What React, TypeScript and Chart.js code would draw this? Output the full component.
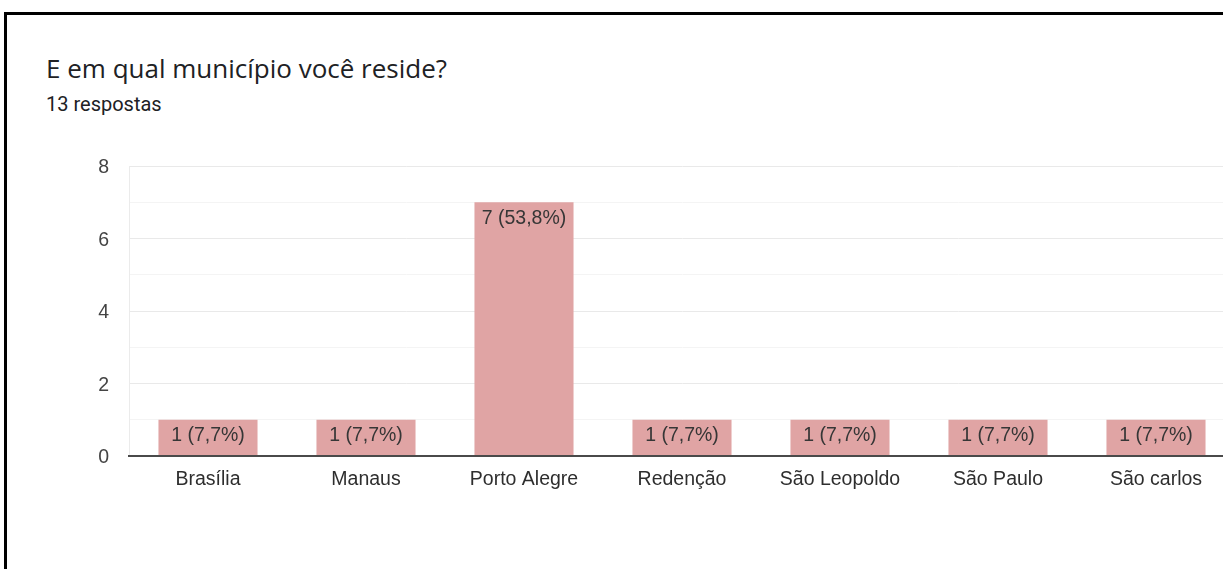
import React, { useEffect, useRef } from 'react';
import { Chart, registerables } from 'chart.js';

Chart.register(...registerables);

const titleText = 'E em qual município você reside?';
const subtitleText = '13 respostas';
const categories = ['Brasília', 'Manaus', 'Porto Alegre', 'Redenção', 'São Leopoldo', 'São Paulo', 'São carlos'];
const counts = [1, 1, 7, 1, 1, 1, 1];
const yMin = 0;
const yMax = 8;
const yLabelValues = [0, 2, 4, 6, 8];

const total = counts.reduce((a, b) => a + b, 0);
const barLabels = counts.map((c) => `${c} (${((c / total) * 100).toFixed(1).replace('.', ',')}%)`);

const axisFont = '"Liberation Sans", Arial, sans-serif';

const barLabelPlugin = {
  id: 'barLabels',
  afterDatasetsDraw(chart: any) {
    const ctx = chart.ctx;
    const meta = chart.getDatasetMeta(0);
    ctx.save();
    ctx.font = `19.5px ${axisFont}`;
    ctx.fillStyle = '#363636';
    ctx.textAlign = 'center';
    ctx.textBaseline = 'middle';
    meta.data.forEach((bar: any, i: number) => {
      const { x, y } = bar.getProps(['x', 'y'], true);
      ctx.fillText(barLabels[i], x, y + 16);
    });
    ctx.restore();
  },
};

export default function App() {
  const canvasRef = useRef<HTMLCanvasElement | null>(null);

  useEffect(() => {
    if (!canvasRef.current) return;
    const chart = new Chart(canvasRef.current, {
      type: 'bar',
      data: {
        labels: categories,
        datasets: [
          {
            data: counts,
            backgroundColor: '#e0a4a4',
            borderWidth: 0,
            barPercentage: 0.627,
            categoryPercentage: 1,
          },
        ],
      },
      options: {
        responsive: false,
        animation: false,
        devicePixelRatio: 1,
        layout: { padding: { top: 166, right: 5, bottom: 0, left: 0 } },
        plugins: {
          legend: { display: false },
          tooltip: { enabled: false },
          title: { display: false },
        },
        scales: {
          x: {
            grid: { display: false, drawTicks: false },
            border: { display: true, color: '#4a4a4a', width: 2, z: 1 },
            ticks: {
              color: '#2e2e2e',
              font: { family: axisFont, size: 19.5 },
              padding: 12,
              maxRotation: 0,
              autoSkip: false,
            },
            afterFit(scale: any) {
              scale.height = 113;
            },
          },
          y: {
            min: yMin,
            max: yMax,
            grid: {
              drawTicks: false,
              color: (ctx: any) => {
                const v = ctx.tick ? ctx.tick.value : 1;
                if (v === 0) return 'rgba(0,0,0,0)';
                return v % 2 === 0 ? '#e9e9e9' : '#f4f4f4';
              },
            },
            border: { display: true, color: '#ebebeb', width: 1 },
            ticks: {
              stepSize: 1,
              color: '#444444',
              font: { family: axisFont, size: 19.5 },
              padding: 20,
              labelOffset: 2,
              callback: (v: any) => (yLabelValues.includes(Number(v)) ? String(v) : ''),
            },
            afterFit(scale: any) {
              scale.width = 129;
            },
          },
        },
      },
      plugins: [barLabelPlugin],
    });
    return () => chart.destroy();
  }, []);

  return (
    <div
      style={{
        position: 'fixed',
        left: 0,
        top: 0,
        width: 1223,
        height: 569,
        overflow: 'hidden',
        background: '#ffffff',
      }}
    >
      <div
        style={{
          position: 'absolute',
          left: 4,
          top: 12,
          width: 2000,
          height: 2000,
          borderTop: '3px solid #000',
          borderLeft: '3px solid #000',
          boxSizing: 'border-box',
        }}
      />
      <div
        style={{
          position: 'absolute',
          left: 46,
          top: 55,
          fontFamily: '"Open Sans", Roboto, sans-serif',
          fontSize: 26,
          lineHeight: '26px',
          color: '#202124',
          whiteSpace: 'nowrap',
        }}
      >
        {titleText}
      </div>
      <div
        style={{
          position: 'absolute',
          left: 46,
          top: 94,
          fontFamily: 'Roboto, "Noto Sans", sans-serif',
          fontSize: 20,
          lineHeight: '20px',
          color: '#202124',
          whiteSpace: 'nowrap',
        }}
      >
        {subtitleText}
      </div>
      <canvas
        ref={canvasRef}
        width={1240}
        height={569}
        style={{ position: 'absolute', left: 0, top: 0, width: 1240, height: 569 }}
      />
    </div>
  );
}
